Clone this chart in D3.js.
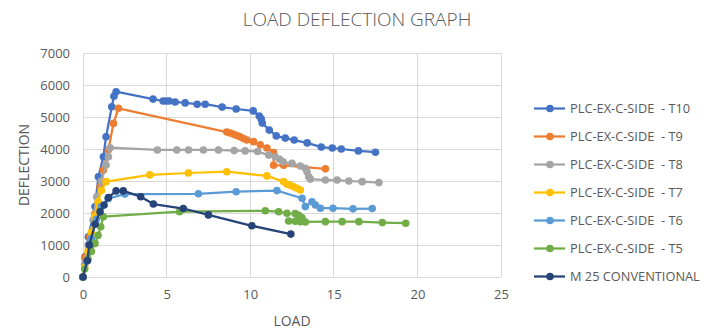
<!DOCTYPE html>
<html><head><meta charset="utf-8">
<script src="https://cdn.jsdelivr.net/npm/d3@7"></script>
<style>body{margin:0;background:#fff}svg{display:block}text{font-family:"Open Sans","Liberation Sans",sans-serif}</style>
</head><body><svg id="c" width="711" height="331"></svg>
<script>
const seriesNames = ["PLC-EX-C-SIDE  - T10","PLC-EX-C-SIDE  - T9","PLC-EX-C-SIDE  - T8","PLC-EX-C-SIDE  - T7","PLC-EX-C-SIDE  - T6","PLC-EX-C-SIDE  - T5","M 25 CONVENTIONAL"];
const seriesColors = ["#4472C4","#ED7D31","#A5A5A5","#FFC000","#5B9BD5","#70AD47","#264478"];
const xTicks = [0,5,10,15,20,25];
const yTicks = [0,1000,2000,3000,4000,5000,6000,7000];

const t10Load = [0,0.12,0.32,0.72,0.92,1.22,1.38,1.72,1.85,1.98,4.19,4.79,4.97,5.15,5.51,6.11,6.83,7.31,8.32,9.16,10.18,10.54,10.66,10.72,11.14,11.56,12.10,12.63,13.41,14.25,14.91,15.45,16.47,17.49];
const t10Defl = [0,635,1260,2200,3135,3760,4385,5320,5650,5790,5560,5500,5500,5500,5470,5440,5400,5400,5310,5250,5190,5030,4940,4810,4590,4410,4340,4280,4190,4060,4030,4000,3940,3900];
const t9Load = [0,0.1,0.4,0.72,1.02,1.22,1.52,1.82,2.12,8.6,8.8,9.0,9.2,9.4,9.6,9.8,10.2,10.6,11.0,11.4,11.4,12.0,14.5];
const t9Defl = [0,600,1250,1990,2820,3340,3970,4800,5270,4530,4500,4460,4420,4380,4330,4280,4230,4130,4030,3890,3490,3490,3380];
const t8Load = [0,0.1,0.3,0.6,0.82,1.1,1.38,1.52,1.62,4.45,5.61,6.31,7.2,8.1,9.04,9.7,10.44,11.1,11.5,11.76,11.96,12.5,13.0,13.3,13.4,13.5,13.6,14.5,15.2,15.9,16.7,17.7];
const t8Defl = [0,400,1000,1780,2510,3000,3500,3760,4040,3970,3970,3970,3970,3970,3950,3940,3920,3810,3760,3680,3600,3550,3470,3400,3290,3135,3060,3030,3030,3000,2980,2950];
const t7Load = [0,0.1,0.3,0.5,0.7,0.9,1.1,1.38,4.0,6.3,8.6,11.0,12.0,12.2,12.4,12.6,12.8,13.0];
const t7Defl = [0,300,800,1400,1900,2350,2700,2980,3190,3250,3290,3160,2980,2900,2870,2820,2770,2720];
const t6Load = [0,0.2,0.5,0.8,1.1,1.5,2.5,6.9,9.16,11.6,13.1,13.3,13.7,13.9,14.2,14.95,16.15,17.3];
const t6Defl = [0,500,1200,1800,2200,2450,2590,2600,2665,2700,2460,2200,2350,2250,2150,2150,2130,2140];
const t5Load = [0,0.1,0.3,0.5,0.72,0.9,1.06,1.22,5.77,10.9,11.7,12.2,12.7,12.9,13.1,12.3,12.7,13.0,13.3,14.5,15.5,16.5,17.9,19.3];
const t5Defl = [0,250,550,800,1050,1300,1570,1885,2040,2070,2040,1990,1980,1930,1850,1750,1740,1730,1720,1730,1730,1730,1700,1680];
const m25Load = [0,0.26,0.38,0.72,1.02,1.26,1.52,1.98,2.41,3.45,4.21,6.0,7.5,10.1,12.43];
const m25Defl = [0,510,1000,1650,2040,2250,2480,2690,2690,2510,2280,2140,1940,1600,1340];

const loads = [t10Load,t9Load,t8Load,t7Load,t6Load,t5Load,m25Load];
const defls = [t10Defl,t9Defl,t8Defl,t7Defl,t6Defl,t5Defl,m25Defl];

const svg = d3.select("#c");
const x = d3.scaleLinear().domain([0,25]).range([83,501]);
const y = d3.scaleLinear().domain([0,7000]).range([277,53]);
const txt = "#595959";

svg.append("text").attr("x",357).attr("y",26).attr("text-anchor","middle")
  .attr("font-size",19).attr("fill",txt).attr("font-weight",300).text("LOAD DEFLECTION GRAPH");

svg.append("g").selectAll("line").data(yTicks).join("line")
  .attr("x1",x(0)).attr("x2",x(25)).attr("y1",d=>y(d)).attr("y2",d=>y(d))
  .attr("stroke","#d9d9d9").attr("stroke-width",1).attr("shape-rendering","crispEdges");
svg.append("g").selectAll("line").data(xTicks).join("line")
  .attr("y1",y(0)).attr("y2",y(7000)).attr("x1",d=>x(d)).attr("x2",d=>x(d))
  .attr("stroke","#d9d9d9").attr("stroke-width",1).attr("shape-rendering","crispEdges");

const xAxis = svg.append("g").attr("transform",`translate(0,${y(0)})`)
  .call(d3.axisBottom(x).tickValues(xTicks).tickSize(0).tickPadding(13));
const yAxis = svg.append("g").attr("transform",`translate(${x(0)},0)`)
  .call(d3.axisLeft(y).tickValues(yTicks).tickSize(0).tickPadding(13).tickFormat(d3.format("d")));
[xAxis,yAxis].forEach(a=>{a.select(".domain").remove();
  a.selectAll("text").attr("fill",txt).attr("font-size",13).attr("font-family","'Open Sans','Liberation Sans',sans-serif");});

svg.append("text").attr("x",292).attr("y",326).attr("text-anchor","middle")
  .attr("font-size",14).attr("fill",txt).text("LOAD");
svg.append("text").attr("transform","translate(29,165) rotate(-90)").attr("text-anchor","middle")
  .attr("font-size",14).attr("fill",txt).text("DEFLECTION");

const line = d3.line().x(d=>x(d[0])).y(d=>y(d[1])).curve(d3.curveLinear);
seriesNames.forEach((name,i)=>{
  const pts = loads[i].map((l,j)=>[l,defls[i][j]]);
  const g = svg.append("g");
  g.append("path").attr("d",line(pts)).attr("fill","none").attr("stroke",seriesColors[i])
    .attr("stroke-width",2.25).attr("stroke-linejoin","round");
  g.selectAll("circle").data(pts).join("circle")
    .attr("cx",d=>x(d[0])).attr("cy",d=>y(d[1])).attr("r",3.8).attr("fill",seriesColors[i]);
});

const lg = svg.append("g");
seriesNames.forEach((name,i)=>{
  const yy = 108.5 + i*28;
  lg.append("line").attr("x1",534).attr("x2",565).attr("y1",yy).attr("y2",yy)
    .attr("stroke",seriesColors[i]).attr("stroke-width",2.25);
  lg.append("circle").attr("cx",550).attr("cy",yy).attr("r",3.8).attr("fill",seriesColors[i]);
  lg.append("text").attr("x",570).attr("y",yy).attr("dy","0.35em").attr("font-size",12.8)
    .attr("fill",txt).attr("xml:space","preserve").style("white-space","pre").text(name);
});
</script></body></html>
